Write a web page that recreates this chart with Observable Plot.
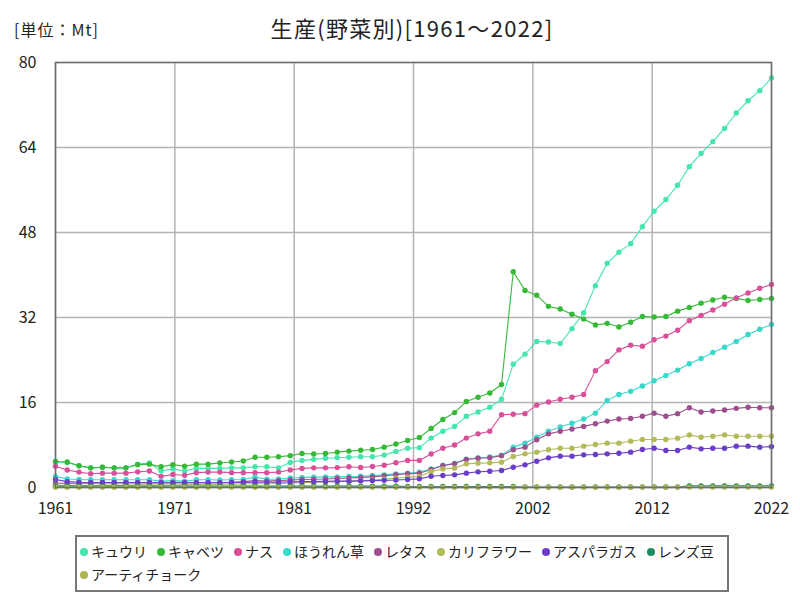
<!DOCTYPE html>
<html><head><meta charset="utf-8">
<script src="https://cdn.jsdelivr.net/npm/d3@7"></script>
<script src="https://cdn.jsdelivr.net/npm/@observablehq/plot@0.6"></script>
<style>
body{margin:0;background:#fff;font-family:"Noto Sans CJK JP","Noto Sans",sans-serif;}
#wrap{position:relative;width:800px;height:600px;overflow:hidden;}
#chart{position:absolute;left:0;top:0;}
#title{position:absolute;left:12px;width:800px;top:11px;text-align:center;font-size:22px;letter-spacing:1.3px;color:#222;}
#unit{position:absolute;left:14px;top:17px;font-size:16px;letter-spacing:1px;color:#222;}
#legend{position:absolute;left:75px;top:535px;width:654px;height:57px;border:2px solid #777;box-sizing:border-box;padding:3px 0 0 3px;display:flex;flex-wrap:wrap;align-content:flex-start;font-size:14px;line-height:23px;color:#222;}
#legend .it{display:flex;align-items:center;margin-right:10px;white-space:nowrap;}
#legend .dt{width:8px;height:8px;border-radius:50%;margin-right:3px;}
</style>
</head><body>
<div id="wrap">
<div id="chart"></div>
<div id="title">生産(野菜別)[1961～2022]</div>
<div id="unit">[単位：Mt]</div>
<div id="legend"></div>
</div>
<script>
const years = d3.range(1961, 2023);
const seriesNames = ["キュウリ","キャベツ","ナス","ほうれん草","レタス","カリフラワー","アスパラガス","レンズ豆","アーティチョーク"];
const seriesColors = ["#45e6ac","#36b936","#d9509a","#38d9cb","#9d4f8d","#b3ba58","#6b3dc9","#1b8b60","#adb552"];
const xTickLabels = ["1961","1971","1981","1992","2002","2012","2022"];
const yTicks = [0,16,32,48,64,80];

const cucumber = [4.8,4.7,4.1,3.7,3.8,3.7,3.7,4.4,4.6,3.1,3.5,3.1,3.6,3.6,3.6,3.7,3.7,3.9,3.9,3.7,
4.7,5.1,5.3,5.5,5.6,5.7,5.8,5.8,6.1,6.8,7.4,7.5,9.3,10.6,11.5,13.4,14.2,15.1,16.6,23.2,
25.1,27.5,27.4,27.1,29.9,32.9,38.0,42.2,44.3,45.9,49.1,52.0,54.2,56.9,60.4,62.9,65.1,67.6,70.5,72.8,74.7,77.1];
const cabbage = [4.9,4.8,4.1,3.7,3.8,3.7,3.7,4.3,4.4,3.9,4.3,4.0,4.4,4.4,4.6,4.8,5.0,5.7,5.7,5.8,
6.0,6.4,6.3,6.4,6.65,6.85,7.0,7.15,7.6,8.2,8.85,9.4,11.1,12.8,14.1,16.2,17.0,17.8,19.4,40.6,
37.1,36.2,34.1,33.6,32.6,31.7,30.6,30.9,30.2,31.1,32.2,32.1,32.2,33.2,33.9,34.7,35.3,35.8,35.6,35.2,35.4,35.6];
const eggplant = [4.0,3.3,2.9,2.6,2.7,2.7,2.7,2.95,3.1,2.1,2.45,2.3,2.8,2.9,2.9,2.8,2.8,2.8,2.8,2.9,
3.3,3.6,3.7,3.7,3.75,3.9,3.76,3.95,4.2,4.65,5.1,5.1,6.3,7.4,8.0,9.3,10.1,10.6,13.7,13.8,
13.9,15.5,16.1,16.6,17.0,17.5,22.0,23.7,25.9,26.8,26.6,27.8,28.5,29.6,31.4,32.4,33.4,34.5,35.7,36.6,37.5,38.2];
const spinach = [2.1,1.6,1.5,1.45,1.45,1.45,1.45,1.45,1.45,1.2,1.3,1.2,1.45,1.45,1.4,1.45,1.5,1.95,1.55,1.6,
1.8,1.9,1.95,2.0,2.0,2.07,2.13,2.26,2.38,2.57,2.7,2.88,3.5,4.2,4.55,5.35,5.55,5.75,6.1,7.6,
8.35,9.47,10.6,11.4,12.1,12.9,14.0,16.4,17.5,18.1,19.1,20.1,21.1,22.1,23.3,24.3,25.4,26.4,27.5,28.8,29.8,30.7];
const lettuce = [0.8,0.8,0.8,0.8,0.85,0.85,0.85,0.85,0.85,0.85,0.9,0.9,0.9,0.9,0.9,1.0,1.1,1.3,1.2,1.3,
1.4,1.5,1.55,1.6,1.7,1.8,1.9,2.0,2.2,2.4,2.6,2.7,3.4,4.1,4.5,5.3,5.5,5.6,6.0,7.1,
7.6,9.0,10.1,10.6,11.0,11.5,12.0,12.5,12.9,13.0,13.4,14.0,13.4,13.9,15.0,14.2,14.4,14.6,14.9,15.1,15.0,15.0];
const cauliflower = [0.4,0.4,0.4,0.4,0.45,0.45,0.45,0.5,0.5,0.45,0.5,0.5,0.55,0.55,0.6,0.6,0.65,0.7,0.7,0.75,
0.8,0.9,1.0,1.05,1.1,1.2,1.3,1.4,1.55,1.75,1.94,2.07,3.0,3.5,3.64,4.45,4.58,4.64,4.77,5.84,
6.33,6.65,7.1,7.4,7.4,7.78,8.1,8.35,8.35,8.72,9.03,9.03,9.03,9.28,9.9,9.47,9.66,9.9,9.66,9.66,9.66,9.66];
const asparagus = [1.5,1.1,1.0,0.95,0.95,0.95,0.95,0.95,0.95,0.9,0.9,0.9,0.9,0.9,0.9,0.9,0.95,1.0,1.0,1.0,
1.05,1.1,1.1,1.15,1.2,1.2,1.25,1.3,1.35,1.4,1.5,1.63,2.13,2.26,2.38,2.7,2.95,3.07,3.2,3.82,
4.26,4.95,5.58,5.9,5.9,6.15,6.2,6.33,6.46,6.65,7.15,7.4,6.96,6.96,7.6,7.28,7.4,7.4,7.78,7.78,7.6,7.7];
const lentils = [0.25,0.25,0.25,0.25,0.25,0.25,0.25,0.25,0.25,0.25,0.25,0.25,0.25,0.25,0.25,0.25,0.25,0.25,0.25,0.25,
0.25,0.25,0.25,0.25,0.25,0.25,0.25,0.25,0.25,0.25,0.2,0.2,0.2,0.2,0.2,0.2,0.2,0.2,0.2,0.2,
0.1,0.1,0.1,0.1,0.1,0.1,0.1,0.1,0.1,0.1,0.1,0.1,0.1,0.1,0.3,0.3,0.3,0.3,0.3,0.3,0.3,0.3];
const artichoke = [0.05,0.05,0.05,0.05,0.05,0.05,0.05,0.05,0.05,0.05,0.05,0.05,0.05,0.05,0.05,0.05,0.05,0.05,0.05,0.05,
0.05,0.05,0.05,0.05,0.05,0.05,0.05,0.05,0.05,0.05,0.05,0.05,0.05,0.05,0.05,0.05,0.05,0.05,0.05,0.05,
0.06,0.06,0.06,0.06,0.06,0.06,0.06,0.06,0.06,0.06,0.08,0.08,0.08,0.08,0.08,0.08,0.08,0.08,0.08,0.08,0.08,0.08];

const seriesValues = [cucumber,cabbage,eggplant,spinach,lettuce,cauliflower,asparagus,lentils,artichoke];
const data = seriesNames.flatMap((n, k) => years.map((yr, i) => ({year: yr, value: seriesValues[k][i], name: n})));
const xTicks = xTickLabels.map((_, i) => 1961 + i * (2022 - 1961) / (xTickLabels.length - 1));

const chart = Plot.plot({
  width: 800, height: 530,
  marginTop: 62, marginBottom: 43, marginLeft: 55, marginRight: 29,
  style: {fontFamily: "'Noto Sans CJK JP', sans-serif", background: "white", color: "#222"},
  x: {domain: [1961, 2022]},
  y: {domain: [0, 80]},
  color: {domain: seriesNames, range: seriesColors},
  marks: [
    Plot.gridX(xTicks, {stroke: "#b4b4b4", strokeOpacity: 1, strokeWidth: 1.5}),
    Plot.gridY(yTicks, {stroke: "#b4b4b4", strokeOpacity: 1, strokeWidth: 1.5}),
    Plot.line(data, {x: "year", y: "value", z: "name", stroke: "name", strokeWidth: 1.1}),
    Plot.dot(data, {x: "year", y: "value", fill: "name", r: 2.7}),
    Plot.frame({stroke: "#6e6e6e", strokeWidth: 1.5}),
    Plot.axisX(xTicks, {tickSize: 0, tickPadding: 15, fontSize: 16, tickFormat: (d, i) => xTickLabels[i], label: null}),
    Plot.axisY(yTicks, {tickSize: 0, tickPadding: 19, fontSize: 16, label: null})
  ]
});
document.getElementById("chart").appendChild(chart);

const lg = document.getElementById("legend");
seriesNames.forEach((n, k) => {
  const it = document.createElement("span");
  it.className = "it";
  it.innerHTML = `<span class="dt" style="background:${seriesColors[k]}"></span>${n}`;
  lg.appendChild(it);
});
</script>
</body></html>
